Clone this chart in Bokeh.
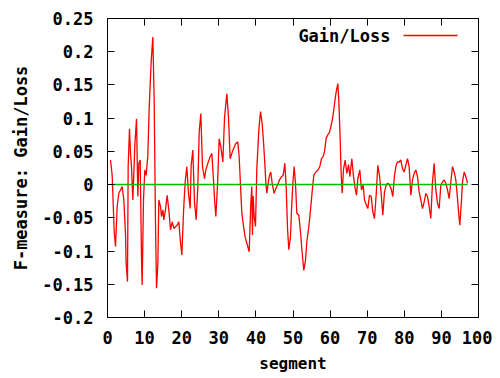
from bokeh.plotting import figure
from bokeh.models import FixedTicker, Label, Arrow, LinearAxis, Range1d
from bokeh.embed import file_html
from bokeh.resources import INLINE

# ---- data ----
segment = [0.81, 1.26, 1.53, 1.80, 2.16, 2.61, 3.05, 3.50, 3.95, 4.40, 4.85, 5.03, 5.39, 5.57, 5.93,
           6.20, 6.47, 6.83, 7.37, 7.82, 8.18, 8.45, 8.81, 9.16, 9.34, 9.70, 10.06, 10.42, 10.87, 11.23,
           11.77, 12.22, 12.58, 12.94, 13.21, 13.57, 13.84, 14.29, 14.56, 14.92, 15.18, 15.63, 16.08,
           16.53, 16.98, 17.43, 17.88, 18.78, 19.23, 19.6, 20.04, 20.49, 20.93, 21.38, 21.83, 22.28,
           22.55, 23.0, 23.45, 23.9, 24.35, 24.71, 25.16, 25.6, 26.15, 26.5, 27.04, 27.67, 28.12, 28.57,
           28.84, 29.2, 29.65, 30.1, 30.55, 31.09, 31.54, 32.16, 32.61, 33.06, 33.51, 33.96, 34.59,
           35.13, 35.49, 35.85, 36.21, 36.75, 37.1, 37.55, 38.19, 38.63, 38.9, 39.08, 39.26, 39.53,
           39.89, 40.25, 40.79, 41.24, 41.69, 42.05, 42.41, 42.68, 42.95, 43.3, 43.66, 44.02, 44.38,
           44.92, 45.37, 45.82, 46.36, 46.9, 47.35, 47.8, 48.16, 48.52, 48.88, 49.33, 49.6, 49.96,
           50.31, 50.67, 51.03, 51.57, 52.02, 52.47, 52.91, 53.37, 53.73, 54.27, 54.72, 55.16, 55.61,
           56.15, 56.77, 57.22, 57.67, 58.12, 58.5, 58.94, 59.39, 59.84, 60.29, 60.74, 61.19, 61.64,
           62.09, 62.36, 62.71, 62.98, 63.25, 63.61, 64.06, 64.51, 64.96, 65.32, 65.86, 66.31, 66.76,
           67.12, 67.48, 68.01, 68.46, 68.91, 69.27, 69.72, 70.17, 70.62, 71.07, 71.52, 71.96, 72.41,
           72.86, 73.31, 73.76, 74.21, 74.66, 75.11, 75.56, 76.01, 76.45, 76.9, 77.35, 77.8, 78.17,
           78.62, 79.07, 79.51, 79.96, 80.41, 80.86, 81.31, 81.76, 82.21, 82.66, 83.11, 83.56, 84.01,
           84.46, 84.91, 85.36, 85.8, 86.25, 86.7, 87.15, 87.6, 88.05, 88.5, 88.95, 89.4, 89.85, 90.3,
           90.75, 91.2, 91.64, 92.09, 92.54, 92.99, 93.44, 93.89, 94.34, 94.7, 94.97, 95.42, 95.69,
           96.14, 96.59, 97.04]
gain_loss = [0.037, 0.014, -0.028, -0.071, -0.093, -0.033, -0.013, -0.008, -0.003, -0.023, -0.073,
             -0.119, -0.146, 0.027, 0.084, 0.047, 0.027, -0.023, 0.059, 0.099, -0.018, 0.032, 0.037,
             -0.109, -0.151, -0.023, 0.022, 0.014, 0.044, 0.115, 0.185, 0.222, 0.127, -0.058, -0.156,
             -0.119, -0.023, -0.033, -0.048, -0.038, -0.053, -0.038, -0.016, -0.038, -0.068, -0.056,
             -0.066, -0.061, -0.056, -0.083, -0.106, -0.041, 0.004, 0.027, -0.013, -0.036, 0.029,
             0.052, -0.026, -0.053, -0.003, 0.079, 0.107, 0.027, 0.009, 0.022, 0.032, 0.042, 0.047,
             0.007, -0.021, -0.048, -0.001, 0.069, 0.057, 0.034, 0.1, 0.137, 0.102, 0.039, 0.047,
             0.054, 0.062, 0.064, 0.042, -0.001, -0.043, -0.066, -0.079, -0.088, -0.101, -0.028,
             -0.003, -0.076, -0.017, -0.048, -0.063, 0.024, 0.082, 0.11, 0.092, 0.064, 0.032, 0.002,
             -0.013, 0.002, 0.014, 0.019, 0.002, -0.013, -0.006, -0.001, 0.007, 0.012, 0.014, 0.032,
             -0.003, -0.066, -0.098, -0.078, -0.038, 0.002, 0.027, 0.002, -0.043, -0.046, -0.071,
             -0.103, -0.129, -0.114, -0.086, -0.063, -0.038, -0.011, 0.014, 0.019, 0.022, 0.027,
             0.039, 0.042, 0.05, 0.07, 0.075, 0.079, 0.089, 0.102, 0.122, 0.14, 0.152, 0.125, 0.069,
             0.017, -0.013, 0.023, 0.037, 0.017, 0.03, 0.012, 0.039, 0.012, -0.006, -0.016, 0.009,
             0.022, -0.008, -0.001, -0.023, -0.03, -0.036, -0.016, -0.018, -0.041, -0.051, -0.016,
             0.029, 0.014, -0.013, -0.046, -0.011, -0.001, 0.002, -0.001, -0.006, -0.018, 0.014,
             0.029, 0.034, 0.034, 0.037, 0.024, 0.019, 0.029, 0.039, 0.027, -0.016, 0.007, 0.017,
             0.022, 0.012, -0.011, -0.023, -0.036, -0.026, -0.013, -0.018, -0.033, -0.051, 0.004,
             0.032, -0.008, -0.028, -0.036, -0.001, 0.004, 0.007, 0.002, -0.008, -0.021, 0.004,
             0.027, 0.019, 0.007, -0.021, -0.046, -0.061, -0.023, 0.004, 0.019, 0.012, 0.002]
baseline_x = [0.81, 97.04]
baseline_y = [0.0, 0.0]

x_ticks = [0, 10, 20, 30, 40, 50, 60, 70, 80, 90, 100]
y_ticks = [-0.2, -0.15, -0.1, -0.05, 0, 0.05, 0.1, 0.15, 0.2, 0.25]
y_tick_labels = ["-0.2", "-0.15", "-0.1", "-0.05", "0", "0.05", "0.1", "0.15", "0.2", "0.25"]
series_name = "Gain/Loss"
x_title = "segment"
y_title = "F-measure: Gain/Loss"

FONT = "DejaVu Sans Mono"
FS = "17px"

p = figure(width=492, height=376, x_range=Range1d(0, 100), y_range=Range1d(-0.2, 0.25),
           output_backend="svg", toolbar_location=None,
           min_border_left=107, min_border_right=14, min_border_top=18, min_border_bottom=59)
p.grid.visible = False
p.outline_line_color = "black"
p.outline_line_width = 1
p.background_fill_color = "white"
p.border_fill_color = "white"

p.line(segment, gain_loss, line_color="#ff0000", line_width=1.3)
p.line(baseline_x, baseline_y, line_color="#00c000", line_width=1.5)

def style(ax, fs=FS):
    ax.axis_line_color = None
    ax.major_tick_in = 7
    ax.major_tick_out = 0
    ax.minor_tick_line_color = None
    ax.major_tick_line_color = "black"
    ax.major_label_text_font = FONT
    ax.major_label_text_font_style = "bold"
    ax.major_label_text_font_size = fs
    ax.major_label_text_color = "black"
    ax.axis_label_text_font = FONT
    ax.axis_label_text_font_style = "bold"
    ax.axis_label_text_font_size = fs
    ax.axis_label_text_color = "black"

xa = p.xaxis[0]
xa.ticker = FixedTicker(ticks=x_ticks)
style(xa)
xa.major_label_standoff = 13
xa.axis_label = x_title
xa.axis_label_text_font_size = "16px"
xa.axis_label_standoff = 7

ya = p.yaxis[0]
ya.ticker = FixedTicker(ticks=y_ticks)
ya.major_label_overrides = {t: s for t, s in zip(y_ticks, y_tick_labels)}
style(ya)
ya.major_label_standoff = 14
ya.axis_label = y_title
ya.axis_label_standoff = 8

# mirrored inward ticks on top and right (no labels), as gnuplot draws them
top = LinearAxis(ticker=FixedTicker(ticks=x_ticks), major_label_standoff=0,
                 major_label_overrides={t: "" for t in x_ticks})
style(top, "10px")
p.add_layout(top, "above")
right = LinearAxis(ticker=FixedTicker(ticks=y_ticks), major_label_standoff=0,
                   major_label_overrides={t: "" for t in y_ticks})
style(right, "10px")
p.add_layout(right, "right")

# legend (gnuplot style: text then sample line)
p.add_layout(Label(x=283, y=282, x_units="screen", y_units="screen", text=series_name,
                   text_align="right", text_baseline="middle", text_font=FONT,
                   text_font_style="bold", text_font_size=FS, text_color="black"))
p.add_layout(Arrow(end=None, x_start=296, y_start=282, x_end=350, y_end=282,
                   start_units="screen", end_units="screen", line_color="#ff0000", line_width=1.3))

open("out.html", "w").write(file_html(p, INLINE))
